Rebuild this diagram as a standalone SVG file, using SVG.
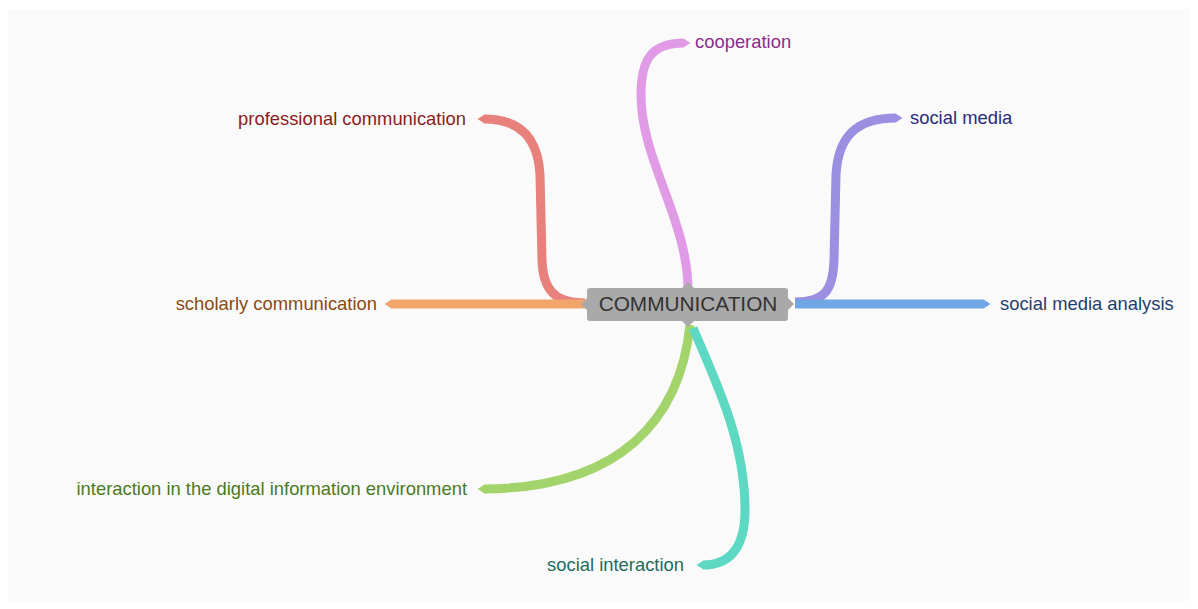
<svg xmlns="http://www.w3.org/2000/svg" width="1198" height="609" viewBox="0 0 1198 609">
<style>
.lbl{font-family:"Liberation Sans",Arial,sans-serif;font-size:18.4px}
.br{fill:none;stroke-width:9;stroke-linecap:butt}
</style>
<defs>
<marker id="m-red" markerUnits="userSpaceOnUse" markerWidth="8" markerHeight="10" viewBox="0 0 8 10" refX="0.5" refY="5" orient="auto"><path d="M0,0.5 L7,5 L0,9.5 Z" fill="#e8807b"/></marker>
<marker id="m-org" markerUnits="userSpaceOnUse" markerWidth="8" markerHeight="10" viewBox="0 0 8 10" refX="0.5" refY="5" orient="auto"><path d="M0,0.5 L7,5 L0,9.5 Z" fill="#f2a56b"/></marker>
<marker id="m-pur" markerUnits="userSpaceOnUse" markerWidth="8" markerHeight="10" viewBox="0 0 8 10" refX="0.5" refY="5" orient="auto"><path d="M0,0.5 L7,5 L0,9.5 Z" fill="#e19be6"/></marker>
<marker id="m-lav" markerUnits="userSpaceOnUse" markerWidth="8" markerHeight="10" viewBox="0 0 8 10" refX="0.5" refY="5" orient="auto"><path d="M0,0.5 L7,5 L0,9.5 Z" fill="#9a8fe0"/></marker>
<marker id="m-blu" markerUnits="userSpaceOnUse" markerWidth="8" markerHeight="10" viewBox="0 0 8 10" refX="0.5" refY="5" orient="auto"><path d="M0,0.5 L7,5 L0,9.5 Z" fill="#6fa6e6"/></marker>
<marker id="m-grn" markerUnits="userSpaceOnUse" markerWidth="8" markerHeight="10" viewBox="0 0 8 10" refX="0.5" refY="5" orient="auto"><path d="M0,0.5 L7,5 L0,9.5 Z" fill="#a3d46c"/></marker>
<marker id="m-tea" markerUnits="userSpaceOnUse" markerWidth="8" markerHeight="10" viewBox="0 0 8 10" refX="0.5" refY="5" orient="auto"><path d="M0,0.5 L7,5 L0,9.5 Z" fill="#5dd8c2"/></marker>
</defs>
<rect x="0" y="0" width="1198" height="609" fill="#ffffff"/>
<rect x="8" y="9" width="1182" height="592" fill="#fafafa"/>
<g id="connectors">
<path class="br" stroke="#e8807b" marker-end="url(#m-red)" d="M585,303 C555,303 543,290 542,260 L540,175 C538,138 520,119 484,119"/>
<path class="br" stroke="#f2a56b" marker-end="url(#m-org)" d="M585,304 L391,304"/>
<path class="br" stroke="#e19be6" marker-end="url(#m-pur)" d="M688,290 C688,220 641,160 641,95 C641,60 651,43 684,43"/>
<path class="br" stroke="#9a8fe0" marker-end="url(#m-lav)" d="M795,302 C825,302 833,290 834,260 L836,175 C838,135 858,118 896,118"/>
<path class="br" stroke="#6fa6e6" marker-end="url(#m-blu)" d="M795,304 L984,304"/>
<path class="br" stroke="#a3d46c" marker-end="url(#m-grn)" d="M690,325 C680,420 620,488 484,489"/>
<path class="br" stroke="#5dd8c2" marker-end="url(#m-tea)" d="M693,328 C715,380 745,440 745,510 C745,550 728,565 703,565"/>
</g>
<g id="n-center">
<rect x="587" y="288" width="201" height="33" rx="3" fill="#a9a9a9"/>
<path d="M682,288 L688,282 L694,288 Z M682,321 L688,327 L694,321 Z M587,298 L581,304 L587,310 Z M788,298 L794,304 L788,310 Z" fill="#a9a9a9"/>
<text class="lbl" x="688" y="311" text-anchor="middle" style="font-size:20.8px" fill="#333333">COMMUNICATION</text>
</g>
<g id="n-professional"><text class="lbl" x="466" y="125" text-anchor="end" fill="#8b1c1c">professional communication</text></g>
<g id="n-scholarly"><text class="lbl" x="377" y="310" text-anchor="end" fill="#8a4a12">scholarly communication</text></g>
<g id="n-cooperation"><text class="lbl" x="695" y="48" fill="#8a2c8c">cooperation</text></g>
<g id="n-socialmedia"><text class="lbl" x="910" y="124" fill="#2b2a7c">social media</text></g>
<g id="n-analysis"><text class="lbl" x="1000" y="310" fill="#1f3f6e">social media analysis</text></g>
<g id="n-interaction"><text class="lbl" x="467" y="495" text-anchor="end" fill="#4a7a22">interaction in the digital information environment</text></g>
<g id="n-socialinteraction"><text class="lbl" x="684" y="571" text-anchor="end" fill="#1f6b5c">social interaction</text></g>
</svg>
